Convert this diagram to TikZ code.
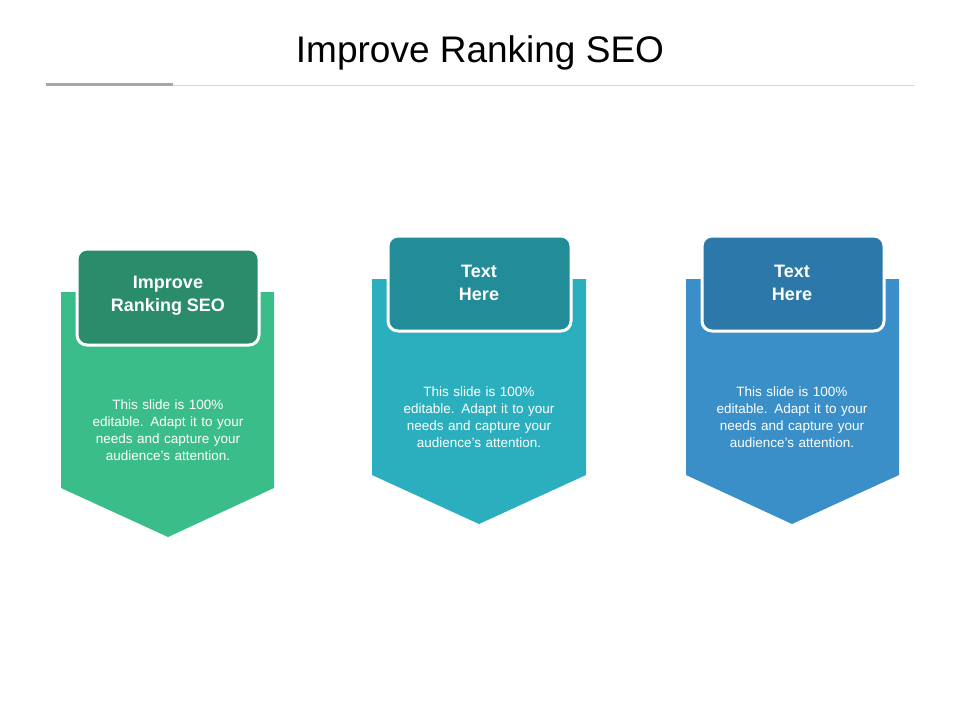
\documentclass[tikz,border=0pt]{standalone}
\usepackage{fontspec}
\setmainfont{Liberation Sans}
\begin{document}
\begin{tikzpicture}[x=1pt,y=-1pt,
  hdr/.style={draw=white,line width=3pt,rounded corners=10pt},
  hdrtxt/.style={text=white,font=\bfseries\fontsize{18}{23}\selectfont,align=center},
  bodytxt/.style={text=white,font=\fontsize{13.5}{17}\selectfont,align=center,text width=165pt}]
\definecolor{gA}{HTML}{3BBD8A}\definecolor{gB}{HTML}{2A8C6A}
\definecolor{tA}{HTML}{2BAFBE}\definecolor{tB}{HTML}{228C98}
\definecolor{bA}{HTML}{3A8FC8}\definecolor{bB}{HTML}{2C78A8}
\useasboundingbox (0,0) rectangle (960,720);
\node[font=\fontsize{37}{42}\selectfont] (title) at (480,53) {Improve Ranking SEO};
\draw[black!15,line width=0.8pt] (46,85) coordinate (l1) -- (915,85) coordinate (l2);
\draw[black!35,line width=3pt] (46,84) coordinate (m1) -- (173,84) coordinate (m2);
% left
\fill[gA] (61,292) -- (274,292) -- (274,488) -- (168,537) -- (61,488) -- cycle;
\filldraw[fill=gB,hdr] (77,249) rectangle (259,345);
\node[hdrtxt] (h1) at (168,296) {Improve\\Ranking SEO};
\node[bodytxt] (b1) at (168,430) {This slide is 100\% editable. Adapt it to your needs and capture your audience's attention.};
% middle
\fill[tA] (372,279) -- (586,279) -- (586,475) -- (479,524) -- (372,475) -- cycle;
\filldraw[fill=tB,hdr] (388,236) rectangle (571,331);
\node[hdrtxt] (h2) at (479,283) {Text\\Here};
\node[bodytxt] (b2) at (479,417) {This slide is 100\% editable. Adapt it to your needs and capture your audience's attention.};
% right
\fill[bA] (686,279) -- (899,279) -- (899,475) -- (792,524) -- (686,475) -- cycle;
\filldraw[fill=bB,hdr] (702,236) rectangle (884,331);
\node[hdrtxt] (h3) at (792,283) {Text\\Here};
\node[bodytxt] (b3) at (792,417) {This slide is 100\% editable. Adapt it to your needs and capture your audience's attention.};
\end{tikzpicture}
\end{document}
